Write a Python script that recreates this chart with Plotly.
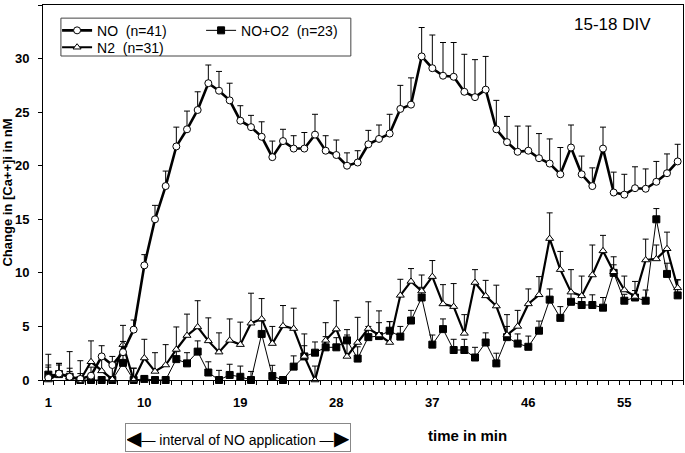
import plotly.graph_objects as go

# ---------------- data ----------------
minutes = list(range(1, 61))

no_vals = [0.2, 0.6, 0.3, 0.1, 0.4, 2.2, 1.4, 2.6, 4.7, 10.7,
           15.0, 18.1, 21.8, 23.4, 25.2, 27.7, 27.0, 26.1, 24.2, 23.6,
           22.7, 20.8, 22.3, 21.6, 21.6, 22.9, 21.4, 21.0, 20.0, 20.3,
           22.0, 22.5, 23.0, 25.3, 25.7, 30.2, 29.1, 28.4, 28.3, 26.9,
           26.4, 27.1, 23.4, 22.2, 21.3, 21.4, 20.7, 20.2, 19.2, 21.7,
           19.2, 18.1, 21.6, 17.5, 17.3, 17.9, 17.85, 18.5, 19.3, 20.4]
no_err = [1.0, 0.8, 0.8, 0.5, 0.8, 1.0, 0.8, 1.0, 0.9, 1.0,
          1.3, 1.4, 1.8, 1.7, 1.7, 1.7, 1.8, 1.6, 1.4, 1.1,
          1.4, 1.5, 1.1, 1.2, 1.5, 1.9, 1.4, 1.4, 1.2, 1.1,
          1.3, 1.3, 1.8, 2.2, 2.5, 2.7, 3.1, 3.1, 3.2, 3.5,
          3.5, 3.1, 2.7, 2.4, 2.4, 2.3, 2.3, 2.3, 2.5, 2.1,
          1.7, 1.7, 2.0, 1.9, 1.9, 2.0, 1.85, 1.9, 1.8, 1.6]

n2_vals = [0.0, 0.55, 0.3, 0.0, 1.7, 0.85, 0.05, 3.3, 0.0, 2.05,
           0.8, 1.4, 2.85, 4.15, 4.95, 3.65, 2.6, 3.7, 3.3, 5.3,
           5.7, 3.4, 5.05, 4.8, 2.2, 0.0, 3.7, 4.75, 2.2, 3.5,
           4.8, 4.2, 3.5, 7.9, 9.2, 8.3, 9.65, 7.1, 6.85, 4.35,
           9.1, 7.85, 6.9, 4.2, 5.0, 7.1, 7.95, 13.2, 10.3, 8.2,
           7.85, 9.8, 12.05, 10.1, 8.4, 7.8, 11.2, 11.3, 12.25, 8.6]
n2_err = [2.4, 1.0, 2.35, 1.8, 1.95, 1.4, 1.5, 1.8, 1.1, 1.75,
          1.75, 1.9, 2.1, 2.0, 2.45, 2.15, 1.8, 2.0, 2.1, 2.8,
          1.9, 1.6, 1.9, 1.9, 2.1, 1.3, 1.65, 2.65, 2.0, 2.35,
          2.5, 2.25, 1.95, 1.5, 1.2, 1.5, 1.5, 1.8, 2.15, 1.75,
          1.2, 1.45, 1.95, 1.9, 1.5, 1.4, 1.7, 2.4, 1.7, 2.1,
          1.85, 2.8, 1.45, 1.4, 1.3, 1.4, 1.95, 1.3, 1.55, 0.75]

o2_vals = [0.5, 0.55, 0.3, 0.0, 0.0, 0.0, 0.0, 1.6, 0.0, 0.1,
           0.0, 0.0, 1.95, 1.55, 2.65, 0.7, 0.0, 0.47, 0.3, 0.0,
           4.3, 0.37, 0.0, 1.25, 2.2, 2.55, 3.05, 3.05, 3.7, 2.0,
           4.0, 4.1, 4.6, 4.05, 5.55, 7.7, 3.3, 4.75, 2.8, 2.8,
           2.1, 3.5, 1.55, 4.0, 3.4, 3.1, 4.6, 7.5, 5.8, 7.3,
           7.0, 7.0, 6.75, 10.0, 7.4, 7.7, 7.4, 15.0, 9.9, 7.9]
o2_err = [0.9, 1.0, 0.5, 0.3, 0.3, 0.3, 0.3, 0.7, 1.1, 0.3,
          0.2, 0.2, 0.7, 1.0, 1.0, 1.0, 0.9, 1.0, 1.0, 0.8,
          1.2, 1.0, 0.3, 1.0, 1.0, 1.0, 1.0, 0.9, 1.0, 1.1,
          1.0, 1.25, 0.85, 0.95, 0.95, 0.95, 0.9, 0.95, 1.0, 1.0,
          0.95, 0.9, 0.95, 1.0, 0.9, 1.0, 0.9, 1.0, 1.05, 0.8,
          0.85, 0.95, 0.95, 0.75, 0.6, 0.65, 1.0, 1.0, 1.0, 1.45]

x_tick_vals = [1, 10, 19, 28, 37, 46, 55]
x_tick_text = ["1", "10", "19", "28", "37", "46", "55"]
y_tick_vals = [0, 5, 10, 15, 20, 25, 30, 35]
cat_edges = [m - 0.5 for m in minutes] + [minutes[-1] + 0.5]

FONT = "Liberation Sans, Arial, sans-serif"

fig = go.Figure()


def add_series(name, y, err, symbol, mcolor, lw, msize, legend):
    fig.add_trace(go.Scatter(
        x=minutes, y=y, name=name, mode="lines+markers",
        line=dict(color="black", width=lw),
        marker=dict(symbol=symbol, size=msize, color=mcolor,
                    line=dict(color="black", width=1)),
        error_y=dict(type="data", symmetric=False, array=err,
                     arrayminus=[0] * len(err), color="black",
                     thickness=1, width=3),
        cliponaxis=False, legend=legend,
    ))


add_series("NO+O2  (n=23)", o2_vals, o2_err, "square", "black", 1, 7, "legend3")
add_series("N2  (n=31)", n2_vals, n2_err, "triangle-up", "white", 2.2, 7, "legend2")
add_series("NO  (n=41)", no_vals, no_err, "circle", "white", 2.6, 7, "legend")

legend_common = dict(orientation="h", xanchor="left", yanchor="top",
                     bgcolor="rgba(0,0,0,0)", borderwidth=0,
                     font=dict(size=14, family=FONT), itemwidth=30)

# plot area: x 43..683 px, y 5..380 px
fig.update_layout(
    width=685, height=453,
    margin=dict(l=43, r=2, t=5, b=73, autoexpand=False),
    paper_bgcolor="white", plot_bgcolor="white",
    font=dict(family=FONT, color="black"),
    showlegend=True,
    legend=dict(x=0.022, y=0.974, **legend_common),
    legend2=dict(x=0.022, y=0.929, **legend_common),
    legend3=dict(x=0.247, y=0.974, **legend_common),
    xaxis=dict(range=[0.5, 60.5], tickmode="array", tickvals=x_tick_vals,
               ticktext=x_tick_text, ticks="", showgrid=False, zeroline=False,
               showline=True, linecolor="black", linewidth=1, mirror=True,
               automargin=False,
               tickfont=dict(size=13, family=FONT, weight="bold"),
               ticklabelstandoff=10,
               minor=dict(tickmode="array", tickvals=cat_edges, ticks="outside",
                          ticklen=4, tickcolor="black", tickwidth=1, showgrid=False)),
    xaxis2=dict(range=[0.5, 60.5], overlaying="x", anchor="y", side="bottom",
                tickmode="array", tickvals=cat_edges, ticks="inside", ticklen=3,
                tickcolor="black", showticklabels=False, showgrid=False,
                zeroline=False, showline=False, automargin=False),
    yaxis=dict(range=[0, 35], tickmode="array", tickvals=y_tick_vals,
               ticks="outside", ticklen=4, tickcolor="black", showgrid=False,
               zeroline=False, showline=True, linecolor="black", linewidth=1,
               mirror=True, automargin=False,
               tickfont=dict(size=13, family=FONT, weight="bold"),
               ticklabelstandoff=6,
               title=dict(text="Change in [Ca++]i in nM", standoff=6,
                          font=dict(size=13, family=FONT, weight="bold"))),
    yaxis2=dict(range=[0, 35], overlaying="y", anchor="x", side="left",
                tickmode="array", tickvals=y_tick_vals, ticks="inside", ticklen=3,
                tickcolor="black", showticklabels=False, showgrid=False,
                zeroline=False, showline=False, automargin=False),
)

# legend frame
fig.add_shape(type="rect", xref="paper", yref="paper",
              x0=0.028, x1=0.481, y0=0.864, y1=0.965,
              line=dict(color="#444", width=1), fillcolor="rgba(0,0,0,0)")

fig.add_annotation(text="15-18 DIV", xref="paper", yref="paper",
                   x=0.89, y=0.949, xanchor="center", yanchor="middle",
                   showarrow=False, font=dict(size=17, family=FONT))
fig.add_annotation(text="<b>time in min</b>", xref="paper", yref="paper",
                   x=0.663, y=-0.149, xanchor="center", yanchor="middle",
                   showarrow=False, font=dict(size=15, family=FONT))
fig.add_annotation(text="<span style='font-size:20px'>◀</span>— interval of NO application —<span style='font-size:20px'>▶</span>",
                   xref="paper", yref="paper",
                   x=0.304, y=-0.153, xanchor="center", yanchor="middle",
                   showarrow=False, width=222, height=25,
                   bordercolor="#888", borderwidth=1, borderpad=1,
                   font=dict(size=14, family=FONT))

fig.write_html("out.html", config={"displayModeBar": False},
               post_script="document.body.style.margin='0px';")
